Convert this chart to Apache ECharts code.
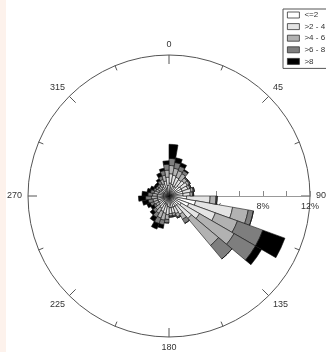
<!DOCTYPE html>
<html>
<head>
<meta charset="utf-8">
<script src="https://cdn.jsdelivr.net/npm/echarts@6/dist/echarts.min.js"></script>
<style>
  html, body { margin: 0; padding: 0; background: #fdf2ec; }
  #rose { position: absolute; left: 6px; top: 0; width: 320px; height: 352px; background: #fff; }
</style>
</head>
<body>
<div id="rose"></div>
<script>
// Direction bins (degrees, bin centres, 10° wide, clockwise from north)
const directions = ['5','15','25','35','45','55','65','75','85','95','105','115',
  '125','135','145','155','165','175','185','195','205','215','225','235',
  '245','255','265','275','285','295','305','315','325','335','345','355'];

// Speed classes shown in the legend
const speedClasses = ['<=2', '>2 - 4', '>4 - 6', '>6 - 8', '>8'];

// Frequency (%) of each speed class per direction bin
const freqLe2  = [1.1,1.0,0.9,0.9,1.1,1.2,1.2,1.2,1.2,1.5,2.3,1.8,1.2,1.0,1.0,1.0,1.0,1.0,
                  0.9,0.8,0.7,0.6,0.6,0.5,0.5,0.5,0.5,0.5,0.5,0.5,0.5,0.5,0.5,0.6,0.7,0.9];
const freq2to4 = [0.8,0.8,0.8,0.7,0.6,0.6,0.5,0.7,0.6,2.0,3.2,2.4,1.8,1.5,0.8,0.6,0.5,0.5,
                  0.7,0.7,0.7,0.6,0.5,0.5,0.5,0.5,0.5,0.5,0.4,0.4,0.3,0.3,0.4,0.5,0.6,0.7];
const freq4to6 = [0.7,0.6,0.6,0.6,0.3,0.2,0.2,0.2,0.2,0.5,1.35,2.0,3.4,3.0,0.5,0.3,0.2,0.2,
                  0.4,0.6,0.6,0.5,0.4,0.3,0.4,0.4,0.5,0.4,0.4,0.3,0.3,0.3,0.3,0.4,0.5,0.6];
const freq6to8 = [0.6,0.5,0.4,0.3,0.1,0.1,0.1,0.1,0.1,0.1,0.45,2.3,2.1,1.5,0.4,0.1,0.1,0.1,
                  0.3,0.4,0.5,0.4,0.3,0.2,0.3,0.4,0.5,0.4,0.3,0.2,0.2,0.2,0.3,0.3,0.4,0.5];
const freqGt8  = [1.2,0.4,0.3,0.1,0.0,0.0,0.0,0.0,0.0,0.0,0.0,2.0,0.6,0.0,0.0,0.0,0.0,0.0,
                  0.0,0.3,0.5,0.4,0.3,0.3,0.3,0.5,0.6,0.5,0.3,0.3,0.2,0.2,0.2,0.3,0.2,0.3];

// Compass labels on the outer ring and radial tick labels
const compassStep = 45;
const radialMax = 12;
const radialTickStep = 2;
const radialLabelStep = 4;

const classColors = ['#ffffff', '#e4e4e4', '#b2b2b2', '#7e7e7e', '#000000'];
const seriesData = [freqLe2, freq2to4, freq4to6, freq6to8, freqGt8];

const FONT = '"Liberation Sans", Arial, sans-serif';
const CX = 163, CY = 196, R = 141;

const chart = echarts.init(document.getElementById('rose'), null, { renderer: 'canvas' });

chart.setOption({
  animation: false,
  backgroundColor: '#fff',
  textStyle: { fontFamily: FONT },
  legend: {
    orient: 'vertical',
    left: 277, top: 9,
    icon: 'rect',
    itemWidth: 12, itemHeight: 6, itemGap: 1.6,
    padding: [1, 4, 2, 4],
    backgroundColor: '#fff',
    borderColor: '#555', borderWidth: 1,
    selectedMode: false,
    data: speedClasses,
    itemStyle: { borderColor: '#333', borderWidth: 0.8 },
    textStyle: { fontFamily: FONT, fontSize: 8, color: '#333', lineHeight: 10 }
  },
  polar: [
    { center: [CX, CY], radius: R },
    { center: [CX, CY], radius: R }
  ],
  angleAxis: [
    {
      polarIndex: 0, type: 'category', data: directions,
      startAngle: 90, clockwise: true, boundaryGap: true,
      axisLine: { show: false }, axisTick: { show: false },
      axisLabel: { show: false }, splitLine: { show: false }
    },
    {
      polarIndex: 1, type: 'value', min: 90, max: 450, interval: compassStep,
      startAngle: 0, clockwise: true,
      axisLine: { lineStyle: { color: '#555', width: 1 } },
      axisTick: { inside: true, length: 9, lineStyle: { color: '#555' } },
      minorTick: { show: true, splitNumber: 2, length: 5, lineStyle: { color: '#555' } },
      axisLabel: { formatter: v => String(v % 360), color: '#333', fontSize: 9, margin: 6, fontFamily: FONT },
      splitLine: { show: false }
    }
  ],
  radiusAxis: [
    { polarIndex: 0, type: 'value', min: 0, max: radialMax, show: false },
    {
      polarIndex: 1, type: 'value', min: 0, max: radialMax, interval: radialTickStep,
      axisLine: { lineStyle: { color: '#999' } },
      axisTick: { length: 5, lineStyle: { color: '#888' } },
      axisLabel: {
        margin: -15,
        formatter: v => (v % radialLabelStep === 0 ? v + '%' : ''),
        color: '#333', fontSize: 9, fontFamily: FONT
      },
      splitLine: { show: false }
    }
  ],
  series: speedClasses.map((name, i) => ({
    name,
    type: 'bar',
    coordinateSystem: 'polar',
    polarIndex: 0,
    stack: 'wind',
    barCategoryGap: '0%',
    data: seriesData[i],
    itemStyle: { color: classColors[i], borderColor: '#111', borderWidth: 0.6 }
  }))
});
</script>
</body>
</html>
